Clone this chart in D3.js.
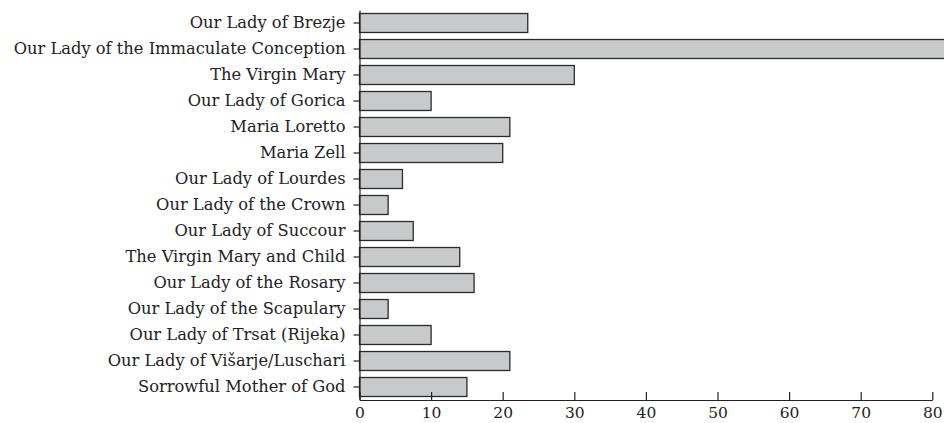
<!DOCTYPE html>
<html><head><meta charset="utf-8">
<script src="https://cdn.jsdelivr.net/npm/d3@7"></script>
<style>body{margin:0;background:#fff}svg{display:block}</style>
</head><body>
<svg id="c" width="944" height="423"></svg>
<script>
const categories = [
  "Our Lady of Brezje",
  "Our Lady of the Immaculate Conception",
  "The Virgin Mary",
  "Our Lady of Gorica",
  "Maria Loretto",
  "Maria Zell",
  "Our Lady of Lourdes",
  "Our Lady of the Crown",
  "Our Lady of Succour",
  "The Virgin Mary and Child",
  "Our Lady of the Rosary",
  "Our Lady of the Scapulary",
  "Our Lady of Trsat (Rijeka)",
  "Our Lady of Višarje/Luschari",
  "Sorrowful Mother of God"
];
const values = [23.5, 90, 30, 10, 21, 20, 6, 4, 7.5, 14, 16, 4, 10, 21, 15];
const xTicks = [0, 10, 20, 30, 40, 50, 60, 70, 80];

const svg = d3.select("#c");
const x = d3.scaleLinear().domain([0, 80]).range([359.5, 932.3]);
const y = d3.scaleBand().domain(categories).range([10, 400]).paddingInner(0.27).paddingOuter(0.135);

svg.append("g").selectAll("rect").data(values).join("rect")
  .attr("x", x(0))
  .attr("y", (d, i) => y(categories[i]))
  .attr("width", d => x(d) - x(0))
  .attr("height", y.bandwidth())
  .attr("fill", "#c8c9cb")
  .attr("stroke", "#2a2a2a")
  .attr("stroke-width", 1.3);

const xa = svg.append("g").attr("transform", "translate(0,400)")
  .call(d3.axisBottom(x).tickValues(xTicks).tickSize(-8).tickSizeOuter(0).tickPadding(7));
const ya = svg.append("g").attr("transform", `translate(${x(0)},0)`)
  .call(d3.axisLeft(y).tickSize(6).tickSizeOuter(0).tickPadding(8));

[xa, ya].forEach(a => {
  a.select(".domain").attr("stroke", "#222").attr("stroke-width", 1.2);
  a.selectAll(".tick line").attr("stroke", "#222").attr("stroke-width", 1.2);
});
xa.selectAll(".tick text").attr("fill", "#222")
  .style("font-family", '"DejaVu Serif"').style("font-size", "15.5px");
ya.selectAll(".tick text").attr("fill", "#222")
  .style("font-family", '"DejaVu Serif"').style("font-size", "16.3px");
</script>
</body></html>
